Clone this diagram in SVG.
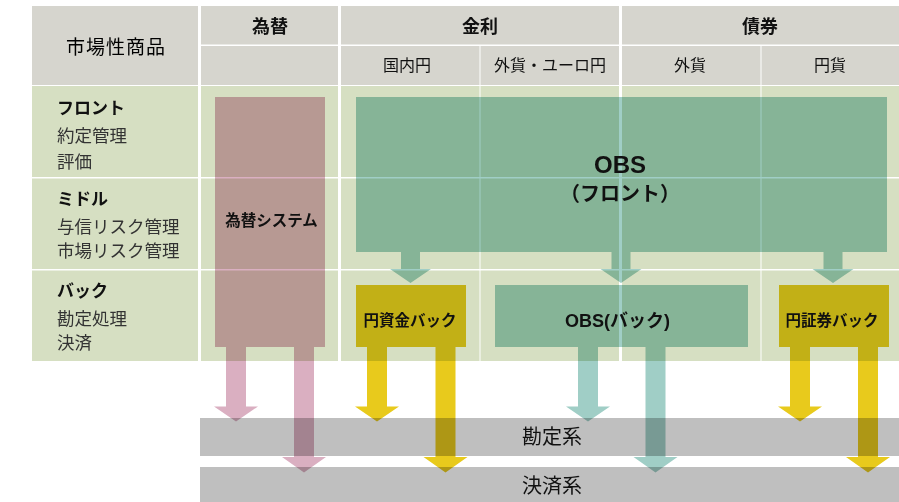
<svg xmlns="http://www.w3.org/2000/svg" width="899" height="502" viewBox="0 0 899 502">
<style>
text{font-family:"Noto Sans CJK JP","Noto Sans",sans-serif;fill:#111;}
.hd{fill:#D6D5CE;}
.bd{fill:#D6DFC2;}
.band{fill:#BFBFBF;}
.mul{mix-blend-mode:multiply;}
.pink{fill:#DAAFC1;}
.gold{fill:#E8CA1C;}
.teal{fill:#A0CEC6;}
.h0{font-size:19px;letter-spacing:1px;text-anchor:middle;fill:#000;}
.h1{font-size:18px;font-weight:bold;text-anchor:middle;}
.h2{font-size:16px;text-anchor:middle;}
.rt{font-size:17px;font-weight:bold;}
.rs{font-size:17.5px;fill:#333;}
.bx{font-size:15.5px;font-weight:bold;text-anchor:middle;}
.lat{font-family:"Liberation Sans","Noto Sans CJK JP",sans-serif;font-weight:bold;text-anchor:middle;}
.big{font-size:20px;font-weight:bold;text-anchor:middle;}
.bl{font-size:20px;text-anchor:middle;}
</style>
<rect width="899" height="502" fill="#fff"/>
<g id="table">
  <rect class="hd" x="32" y="6" width="166" height="79"/>
  <rect class="hd" x="201" y="6" width="137" height="38.5"/>
  <rect class="hd" x="341" y="6" width="278" height="38.5"/>
  <rect class="hd" x="622" y="6" width="277" height="38.5"/>
  <rect class="hd" x="201" y="46" width="137" height="39"/>
  <rect class="hd" x="341" y="46" width="138.5" height="39"/>
  <rect class="hd" x="480.5" y="46" width="138.5" height="39"/>
  <rect class="hd" x="622" y="46" width="138.5" height="39"/>
  <rect class="hd" x="761.5" y="46" width="137.5" height="39"/>
  <g id="rows">
    <rect class="bd" x="32" y="86" width="166" height="91"/>
    <rect class="bd" x="32" y="178.5" width="166" height="90.5"/>
    <rect class="bd" x="32" y="270.5" width="166" height="90.5"/>
    <rect class="bd" x="201" y="86" width="137" height="91"/>
    <rect class="bd" x="201" y="178.5" width="137" height="90.5"/>
    <rect class="bd" x="201" y="270.5" width="137" height="90.5"/>
    <rect class="bd" x="341" y="86" width="138.5" height="91"/>
    <rect class="bd" x="341" y="178.5" width="138.5" height="90.5"/>
    <rect class="bd" x="341" y="270.5" width="138.5" height="90.5"/>
    <rect class="bd" x="480.5" y="86" width="138.5" height="91"/>
    <rect class="bd" x="480.5" y="178.5" width="138.5" height="90.5"/>
    <rect class="bd" x="480.5" y="270.5" width="138.5" height="90.5"/>
    <rect class="bd" x="622" y="86" width="138.5" height="91"/>
    <rect class="bd" x="622" y="178.5" width="138.5" height="90.5"/>
    <rect class="bd" x="622" y="270.5" width="138.5" height="90.5"/>
    <rect class="bd" x="761.5" y="86" width="137.5" height="91"/>
    <rect class="bd" x="761.5" y="178.5" width="137.5" height="90.5"/>
    <rect class="bd" x="761.5" y="270.5" width="137.5" height="90.5"/>
  </g>
  <text class="h0" x="116" y="54">市場性商品</text>
  <text class="h1" x="270" y="33">為替</text>
  <text class="h1" x="480" y="33">金利</text>
  <text class="h1" x="760" y="33">債券</text>
  <text class="h2" x="407" y="71">国内円</text>
  <text class="h2" x="550" y="71">外貨・ユーロ円</text>
  <text class="h2" x="690" y="71">外貨</text>
  <text class="h2" x="830" y="71">円貨</text>
  <text class="rt" x="57" y="114">フロント</text>
  <text class="rs" x="57" y="142">約定管理</text>
  <text class="rs" x="57" y="168">評価</text>
  <text class="rt" x="57" y="205">ミドル</text>
  <text class="rs" x="57" y="233">与信リスク管理</text>
  <text class="rs" x="57" y="257">市場リスク管理</text>
  <text class="rt" x="57" y="297">バック</text>
  <text class="rs" x="57" y="325">勘定処理</text>
  <text class="rs" x="57" y="349">決済</text>
</g>
<g id="kanjou">
  <rect class="band" x="200" y="418" width="699" height="38"/>
</g>
<g id="kessai">
  <rect class="band" x="200" y="467" width="699" height="35"/>
</g>
<g id="fx-system">
  <rect class="pink mul" x="215" y="97" width="110" height="250"/>
</g>
<g id="obs-front">
  <rect class="teal mul" x="356" y="97" width="531" height="155"/>
</g>
<g id="yen-fund-back">
  <rect class="gold mul" x="356" y="285" width="110" height="62"/>
</g>
<g id="obs-back">
  <rect class="teal mul" x="495" y="285" width="253" height="62"/>
</g>
<g id="yen-sec-back">
  <rect class="gold mul" x="779" y="285" width="110" height="62"/>
</g>
<g id="connectors">
  <polygon class="teal mul" points="401,252 420,252 420,269 431,269 410.5,283 390,269 401,269"/>
  <polygon class="teal mul" points="611.5,252 630.5,252 630.5,269 641.5,269 621,283 600.5,269 611.5,269"/>
  <polygon class="teal mul" points="823.5,252 842.5,252 842.5,269 853.5,269 833,283 812.5,269 823.5,269"/>
  <polygon class="pink mul" points="226,347 246,347 246,406.5 258,406.5 236,421.5 214,406.5 226,406.5"/>
  <polygon class="pink mul" points="294,347 314,347 314,457 326,457 304,472.5 282,457 294,457"/>
  <polygon class="gold mul" points="367,347 387,347 387,406.5 399,406.5 377,421.5 355,406.5 367,406.5"/>
  <polygon class="gold mul" points="435.5,347 455.5,347 455.5,457 467.5,457 445.5,472.5 423.5,457 435.5,457"/>
  <polygon class="teal mul" points="578,347 598,347 598,406.5 610,406.5 588,421.5 566,406.5 578,406.5"/>
  <polygon class="teal mul" points="645.5,347 665.5,347 665.5,457 677.5,457 655.5,472.5 633.5,457 645.5,457"/>
  <polygon class="gold mul" points="790,347 810,347 810,406.5 822,406.5 800,421.5 778,406.5 790,406.5"/>
  <polygon class="gold mul" points="858,347 878,347 878,457 890,457 868,472.5 846,457 858,457"/>
</g>
<g id="labels">
  <text class="bx" x="271.5" y="226">為替システム</text>
  <text class="lat" x="620" y="172.5" font-size="24">OBS</text>
  <text class="big" x="620" y="201">（フロント）</text>
  <text class="bx" x="410" y="326" font-size="16">円資金バック</text>
  <text class="lat" x="617.5" y="326.5" font-size="18">OBS(バック)</text>
  <text class="bx" x="832" y="326" font-size="16">円証券バック</text>
  <text class="bl" x="552" y="444">勘定系</text>
  <text class="bl" x="552" y="493">決済系</text>
</g>
</svg>
